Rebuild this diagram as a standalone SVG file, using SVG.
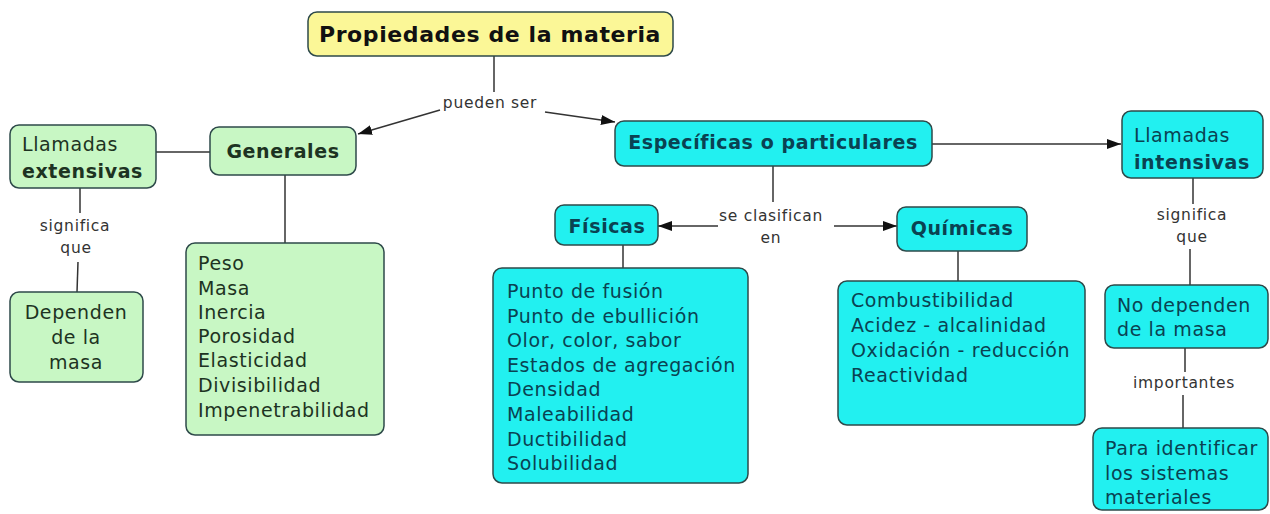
<svg xmlns="http://www.w3.org/2000/svg" width="1270" height="514" viewBox="0 0 1270 514">
<style>
.n{stroke:#2e4a4a;stroke-width:1.5}
.y{fill:#fbf797}
.g{fill:#c8f7c4}
.c{fill:#22f0f0}
text{font-family:"DejaVu Sans","Verdana",sans-serif}
.t{font-size:19px;letter-spacing:0.6px}
.b{font-weight:bold}
.tg{fill:#1d3322}
.tc{fill:#0a4252}
.l{font-size:15.5px;letter-spacing:0.7px;fill:#333;text-anchor:middle}
.m{text-anchor:middle}
.k{stroke:#333;stroke-width:1.5;fill:none}
.a{marker-end:url(#ar)}
</style>
<defs>
<marker id="ar" markerUnits="userSpaceOnUse" markerWidth="15" markerHeight="11" refX="14" refY="5" orient="auto">
<path d="M0,0 L14,5 L0,10 z" fill="#111"/>
</marker>
</defs>
<rect width="1270" height="514" fill="#fff"/>
<g id="connectors">
<line class="k" x1="494" y1="56" x2="494" y2="92"/>
<line class="k a" x1="440" y1="110" x2="358" y2="134"/>
<line class="k a" x1="545" y1="112" x2="615" y2="122"/>
<line class="k" x1="156" y1="152" x2="210" y2="152"/>
<line class="k" x1="80" y1="188" x2="80" y2="213"/>
<line class="k" x1="78" y1="262" x2="77" y2="292"/>
<line class="k" x1="285" y1="175" x2="285" y2="243"/>
<line class="k a" x1="932" y1="144" x2="1121" y2="144"/>
<line class="k" x1="773" y1="166" x2="773" y2="202"/>
<line class="k a" x1="718" y1="226" x2="658" y2="226"/>
<line class="k a" x1="834" y1="226" x2="897" y2="226"/>
<line class="k" x1="623" y1="245" x2="623" y2="268"/>
<line class="k" x1="958" y1="251" x2="958" y2="281"/>
<line class="k" x1="1193" y1="178" x2="1193" y2="204"/>
<line class="k" x1="1190" y1="249" x2="1190" y2="285"/>
<line class="k" x1="1185" y1="348" x2="1185" y2="372"/>
<line class="k" x1="1183" y1="395" x2="1183" y2="428"/>
<text class="l" x="490" y="108">pueden ser</text>
<text class="l" x="75" y="231">significa</text>
<text class="l" x="76" y="253">que</text>
<text class="l" x="771" y="221">se clasifican</text>
<text class="l" x="771" y="243">en</text>
<text class="l" x="1192" y="220">significa</text>
<text class="l" x="1192" y="242">que</text>
<text class="l" x="1184" y="388">importantes</text>
</g>
<g id="propiedades">
<rect class="n y" x="308" y="12" width="365" height="44" rx="9"/>
<text class="b m" x="490" y="42" style="font-size:22px;letter-spacing:0.6px" fill="#111">Propiedades de la materia</text>
</g>
<g id="extensivas">
<rect class="n g" x="10" y="125" width="146" height="63" rx="9"/>
<text class="t tg" x="22" y="151">Llamadas</text>
<text class="t tg b" x="22" y="178">extensivas</text>
</g>
<g id="generales">
<rect class="n g" x="210" y="127" width="146" height="48" rx="9"/>
<text class="t tg b m" x="283" y="158">Generales</text>
</g>
<g id="dependen">
<rect class="n g" x="10" y="292" width="133" height="90" rx="9"/>
<text class="t tg m" x="76" y="319">Dependen</text>
<text class="t tg m" x="76" y="344">de la</text>
<text class="t tg m" x="76" y="369">masa</text>
</g>
<g id="lista-generales">
<rect class="n g" x="186" y="243" width="198" height="192" rx="9"/>
<text class="t tg" x="198" y="270">Peso</text>
<text class="t tg" x="198" y="295">Masa</text>
<text class="t tg" x="198" y="319">Inercia</text>
<text class="t tg" x="198" y="343">Porosidad</text>
<text class="t tg" x="198" y="367">Elasticidad</text>
<text class="t tg" x="198" y="392">Divisibilidad</text>
<text class="t tg" x="198" y="417">Impenetrabilidad</text>
</g>
<g id="especificas">
<rect class="n c" x="615" y="121" width="317" height="45" rx="9"/>
<text class="t tc b m" x="773" y="149">Específicas o particulares</text>
</g>
<g id="intensivas">
<rect class="n c" x="1122" y="111" width="141" height="67" rx="9"/>
<text class="t tc" x="1134" y="142">Llamadas</text>
<text class="t tc b" x="1134" y="169">intensivas</text>
</g>
<g id="fisicas">
<rect class="n c" x="555" y="205" width="103" height="40" rx="9"/>
<text class="t tc b m" x="607" y="233">Físicas</text>
</g>
<g id="quimicas">
<rect class="n c" x="897" y="207" width="130" height="44" rx="9"/>
<text class="t tc b m" x="962" y="235">Químicas</text>
</g>
<g id="lista-fisicas">
<rect class="n c" x="493" y="268" width="255" height="215" rx="9"/>
<text class="t tc" x="507" y="298">Punto de fusión</text>
<text class="t tc" x="507" y="323">Punto de ebullición</text>
<text class="t tc" x="507" y="347">Olor, color, sabor</text>
<text class="t tc" x="507" y="372">Estados de agregación</text>
<text class="t tc" x="507" y="396">Densidad</text>
<text class="t tc" x="507" y="421">Maleabilidad</text>
<text class="t tc" x="507" y="446">Ductibilidad</text>
<text class="t tc" x="507" y="470">Solubilidad</text>
</g>
<g id="lista-quimicas">
<rect class="n c" x="838" y="281" width="247" height="144" rx="9"/>
<text class="t tc" x="851" y="307">Combustibilidad</text>
<text class="t tc" x="851" y="332">Acidez - alcalinidad</text>
<text class="t tc" x="851" y="357">Oxidación - reducción</text>
<text class="t tc" x="851" y="382">Reactividad</text>
</g>
<g id="no-dependen">
<rect class="n c" x="1105" y="285" width="163" height="63" rx="9"/>
<text class="t tc" x="1117" y="312">No dependen</text>
<text class="t tc" x="1117" y="336">de la masa</text>
</g>
<g id="identificar">
<rect class="n c" x="1093" y="428" width="175" height="82" rx="9"/>
<text class="t tc" x="1105" y="455">Para identificar</text>
<text class="t tc" x="1105" y="480">los sistemas</text>
<text class="t tc" x="1105" y="504">materiales</text>
</g>
</svg>
